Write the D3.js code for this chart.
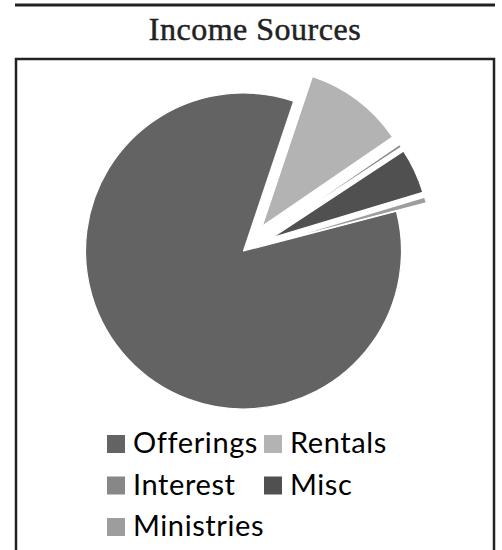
<!DOCTYPE html>
<html>
<head>
<meta charset="utf-8">
<script src="https://cdn.jsdelivr.net/npm/d3@7"></script>
<style>
  html, body { margin: 0; padding: 0; background: #fff; }
  svg { display: block; }
</style>
</head>
<body>
<svg width="502" height="550"></svg>
<script>
// chart data
const categories = ["Offerings", "Rentals", "Interest", "Misc", "Ministries"];
const values = [84.2, 10.3, 0.3, 4.6, 0.6];
const title = "Income Sources";

// styling
const colors = ["#636363", "#b3b3b3", "#878787", "#505050", "#9d9d9d"];
const explode = [0, 31, 31, 31, 31];

const svg = d3.select("svg");

// frame
svg.append("line")
  .attr("x1", 15).attr("x2", 495)
  .attr("y1", 5).attr("y2", 5)
  .attr("stroke", "#222")
  .attr("stroke-width", 3);
svg.append("path")
  .attr("d", "M16,551 L16,59 L494,59 L494,551")
  .attr("fill", "none")
  .attr("stroke", "#222")
  .attr("stroke-width", 2.5);

// title
svg.append("text")
  .attr("x", 255)
  .attr("y", 40)
  .attr("text-anchor", "middle")
  .style("font-family", "'Liberation Serif', 'DejaVu Serif', serif")
  .style("font-size", "32px")
  .style("letter-spacing", "0.5px")
  .attr("fill", "#222")
  .attr("stroke", "#222")
  .attr("stroke-width", 0.5)
  .text(title);

// pie
const cx = 243.5, cy = 251, radius = 158;
const start = 75.4 * Math.PI / 180;
const pie = d3.pie()
  .value(d => d)
  .sort(null)
  .startAngle(start)
  .endAngle(start + 2 * Math.PI);
const arc = d3.arc().innerRadius(0).outerRadius(radius);

const g = svg.append("g")
  .attr("transform", "translate(" + cx + "," + cy + ")");

g.selectAll(".slice")
  .data(pie(values))
  .enter()
  .append("path")
  .attr("class", "slice")
  .attr("transform", (d, i) => {
    const mid = (d.startAngle + d.endAngle) / 2;
    return "translate(" + (Math.sin(mid) * explode[i]) + "," + (-Math.cos(mid) * explode[i]) + ")";
  })
  .attr("d", arc)
  .attr("fill", (d, i) => colors[i])
  .attr("stroke", "#fff")
  .attr("stroke-width", 1.2)
  .attr("stroke-linejoin", "round");

// legend
const colX = [107, 264];
const rowY = [453, 494.5, 536];
const size = 18;
const legend = svg.selectAll(".key")
  .data(categories)
  .enter()
  .append("g")
  .attr("class", "key")
  .attr("transform", (d, i) => "translate(" + colX[i % 2] + "," + rowY[Math.floor(i / 2)] + ")");
legend.append("rect")
  .attr("y", -size)
  .attr("width", size)
  .attr("height", size)
  .attr("fill", (d, i) => colors[i]);
legend.append("text")
  .attr("x", 26)
  .attr("y", 0)
  .style("font-family", "Lato, 'Noto Sans', sans-serif")
  .style("font-size", "29px")
  .style("letter-spacing", "0.6px")
  .attr("fill", "#000")
  .text(d => d);
</script>
</body>
</html>
